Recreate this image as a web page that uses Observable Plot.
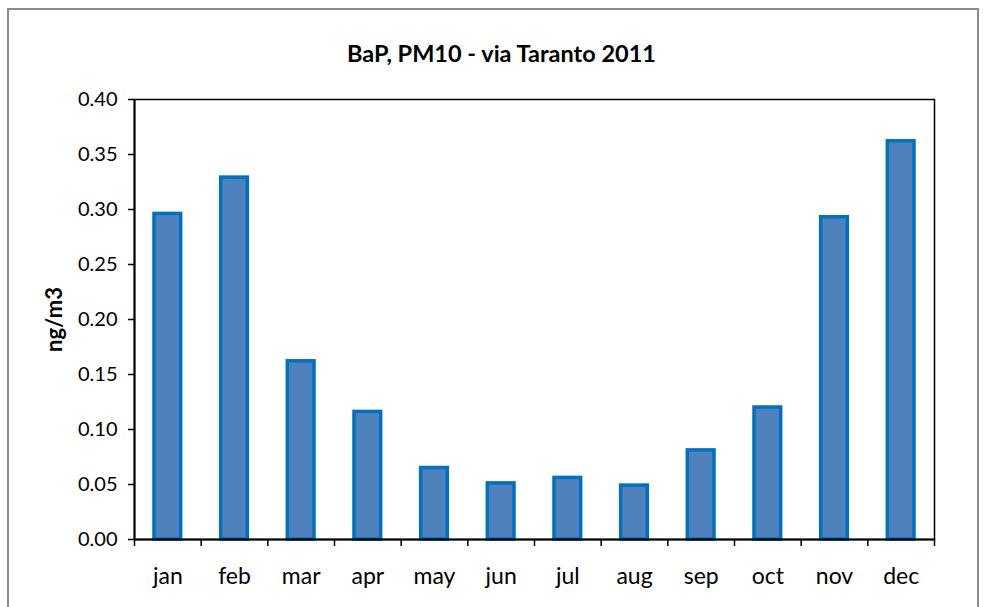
<!DOCTYPE html>
<html><head><meta charset="utf-8">
<script src="https://cdn.jsdelivr.net/npm/d3@7"></script>
<script src="https://cdn.jsdelivr.net/npm/@observablehq/plot@0.6"></script>
<style>
body{margin:0;background:#fff;}
#wrap{position:relative;width:985px;height:607px;overflow:hidden;font-family:Lato,"Open Sans",sans-serif;}
#border{position:absolute;left:7px;top:8px;width:968px;height:640px;border:2px solid #8c8c8c;}
#title{position:absolute;left:14px;width:975px;top:42px;line-height:1;text-align:center;font-weight:bold;font-size:23.5px;color:#000;white-space:nowrap;}
#wrap svg{position:absolute;left:0;top:0;}
</style></head>
<body><div id="wrap"><div id="border"></div><div id="title"></div></div>
<script>
const title = "BaP, PM10 - via Taranto 2011";
const yLabel = "ng/m3";
const months = ["jan","feb","mar","apr","may","jun","jul","aug","sep","oct","nov","dec"];
const values = [0.296, 0.329, 0.162, 0.116, 0.065, 0.051, 0.056, 0.049, 0.081, 0.120, 0.293, 0.362];
const yTicks = [0, 0.05, 0.10, 0.15, 0.20, 0.25, 0.30, 0.35, 0.40];

const data = months.map((m, i) => ({month: m, index: i, value: values[i]}));
document.getElementById("title").textContent = title;

const chart = Plot.plot({
  width: 985, height: 607,
  marginLeft: 134, marginRight: 51, marginTop: 99, marginBottom: 68,
  style: {fontFamily: "Lato, sans-serif", fontSize: "20px", color: "#000", background: "transparent", overflow: "visible"},
  x: {domain: [0, months.length]},
  y: {domain: [0, 0.4]},
  marks: [
    Plot.rectY(data, {x1: d => d.index + 0.3, x2: d => d.index + 0.7, y: "value", fill: "#4F81BD", stroke: "#0070C0", strokeWidth: 3.5}),
    Plot.axisY({ticks: yTicks, tickFormat: d3.format(".2f"), tickSize: 6, tickPadding: 11, label: null, strokeWidth: 1.5, fontSize: 20}),
    Plot.axisX({ticks: d3.range(months.length + 1), tickFormat: () => "", tickSize: 7, label: null, strokeWidth: 1.5}),
    Plot.axisX({ticks: months.map((m, i) => i + 0.5), tickFormat: v => months[Math.floor(v)], tickSize: 0, tickPadding: 28, label: null, fontSize: 23}),
    Plot.frame({stroke: "#000", strokeWidth: 1.5}),
    Plot.ruleX([0], {strokeWidth: 2}),
    Plot.ruleY([0], {strokeWidth: 2}),
    Plot.text([yLabel], {frameAnchor: "left", textAnchor: "middle", lineAnchor: "middle", dx: -80, rotate: -90, fontWeight: "bold", fontSize: 22})
  ]
});
document.getElementById("wrap").appendChild(chart);
</script>
</body></html>
